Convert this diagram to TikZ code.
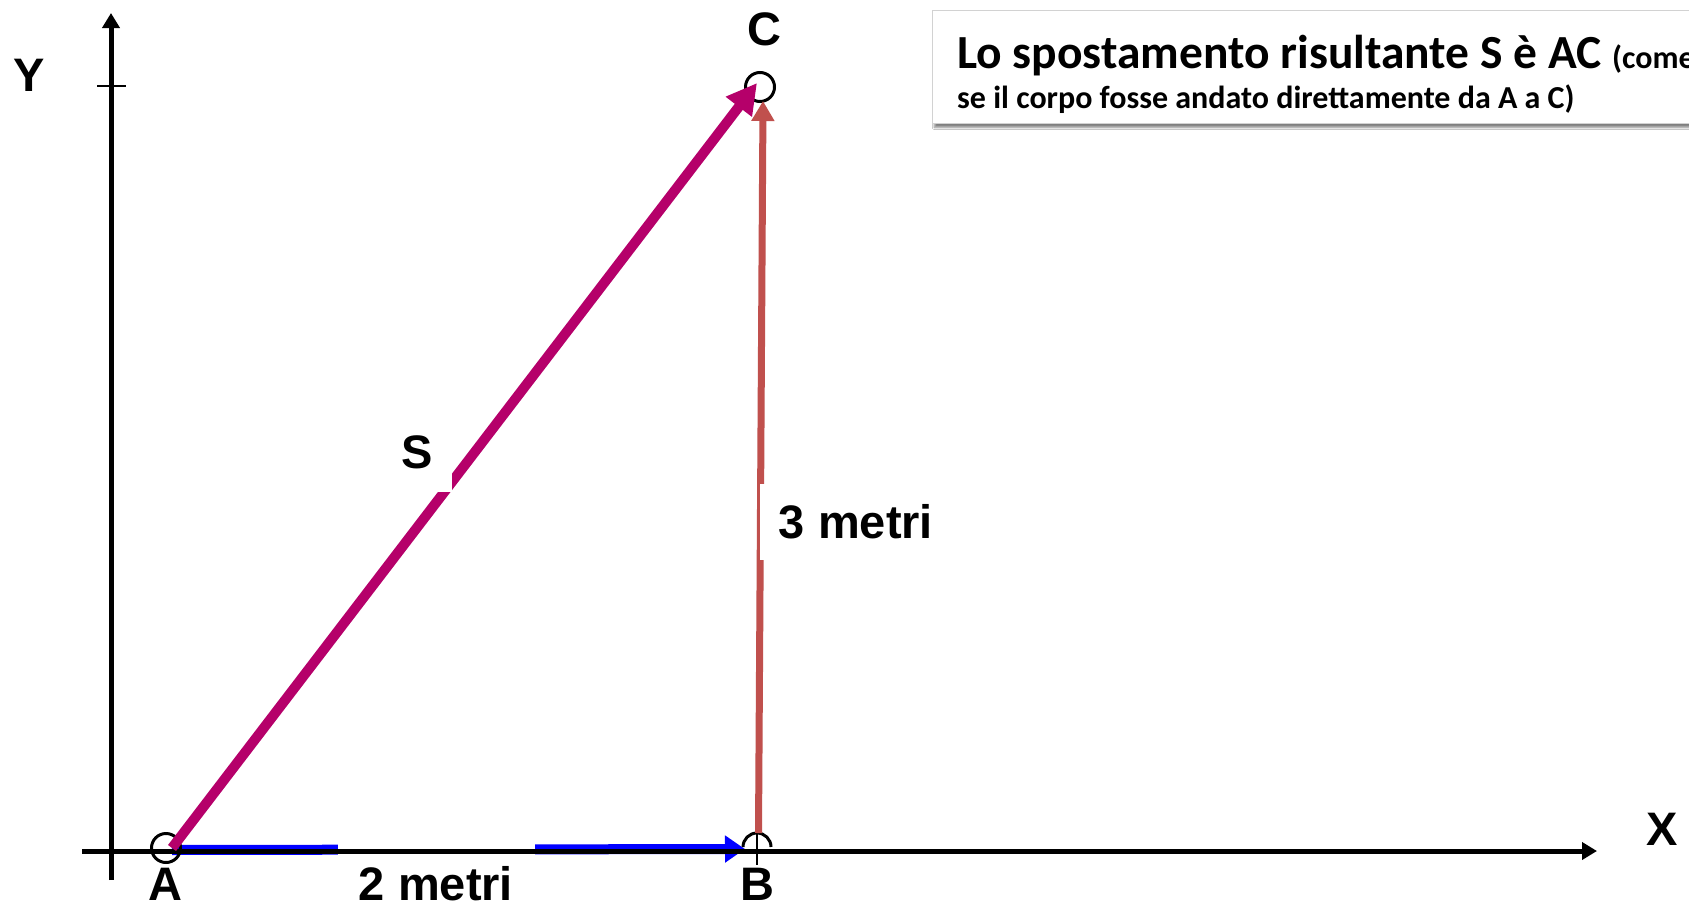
\documentclass[tikz,border=0pt]{standalone}
\usepackage{fontspec}
\setmainfont{Liberation Sans}
\newfontfamily\calib{Carlito}
\usetikzlibrary{arrows.meta,shadows.blur}
\definecolor{magS}{RGB}{181,0,106}
\definecolor{redV}{RGB}{192,80,77}
\definecolor{blueV}{RGB}{0,0,255}
\tikzset{
  lab/.style={font=\fontsize{47}{50}\selectfont\bfseries, inner sep=0pt},
  whitelab/.style={lab, fill=white},
  axisline/.style={line width=5pt, -{Triangle[length=15pt,width=17pt]}},
  ptcircle/.style={circle, draw, line width=3pt, minimum size=29pt, inner sep=0pt},
  tickline/.style={line width=2pt},
  vec/.style={line width=#1},
}
\begin{document}
\begin{tikzpicture}[x=1pt,y=-1pt]
\useasboundingbox (0,0) rectangle (1689,905);
\fill[white] (0,0) rectangle (1689,905);

% points
\coordinate (Ac) at (166,848);
\coordinate (Bc) at (757,847);
\coordinate (As) at (172,850);
\coordinate (Bt) at (745,849);
\coordinate (Rs) at (758.5,833);
\coordinate (Rt) at (763,101);
\coordinate (Ms) at (172,848);
\coordinate (Mt) at (757,83);

% blue vector A->B
\draw[vec=10pt, blueV, -{Triangle[length=20pt,width=26pt]}] (As) -- (Bt);
\node[whitelab, minimum width=197pt, minimum height=86pt] (lab2) at (436,884) {2 metri};

% axes
\coordinate (xs) at (82,851);
\coordinate (xe) at (1597,851);
\coordinate (ys) at (111,880);
\coordinate (ye) at (111,13);
\draw[axisline] (xs) -- (xe);
\draw[axisline] (ys) -- (ye);
\coordinate (yt1) at (97,86);
\coordinate (yt2) at (126,86);
\draw[tickline] (yt1) -- (yt2);
\coordinate (bt1) at (757,833);
\coordinate (bt2) at (757,865);
\draw[tickline] (bt1) -- (bt2);

% point markers
\node[ptcircle] (ptA) at (Ac) {};
\draw[line width=3pt] (Bc) ++(-14,0) arc[start angle=180, end angle=360, radius=14];
\node[ptcircle] (ptC) at (760,87) {};

% red vector B->C
\draw[vec=7pt, redV, -{Triangle[length=20pt,width=22pt]}] (Rs) -- (Rt);
\node[whitelab, minimum width=192pt, minimum height=76pt] (lab3) at (856,522) {3 metri};

% magenta resultant A->C
\draw[vec=10pt, magS, -{Triangle[length=30pt,width=31pt]}] (Ms) -- (Mt);
\node[whitelab, minimum width=70pt, minimum height=80pt] (labS) at (417,452) {S};

% labels
\node[lab] (Ylab) at (29,75) {Y};
\node[lab] (Xlab) at (1662,829) {X};
\node[lab] (Alab) at (165,884) {A};
\node[lab] (Blab) at (757,884) {B};
\node[lab] (Clab) at (764,29) {C};

% text box
\node[draw=gray!35, line width=0.8pt, fill=white, anchor=north west, minimum width=800pt, minimum height=113pt, inner sep=0pt,
      blur shadow={shadow xshift=2pt, shadow yshift=-4pt, shadow blur steps=6, shadow opacity=50}] (box) at (932,10) {};
\node[anchor=base west, inner sep=0pt, font=\calib\bfseries\fontsize{47.5}{50}\selectfont] (t1) at (957,68)
  {Lo spostamento risultante S è AC {\fontsize{32}{36}\selectfont(come}};
\node[anchor=base west, inner sep=0pt, font=\calib\bfseries\fontsize{32}{36}\selectfont] (t2) at (957,108)
  {se il corpo fosse andato direttamente da A a C)};
\end{tikzpicture}
\end{document}
